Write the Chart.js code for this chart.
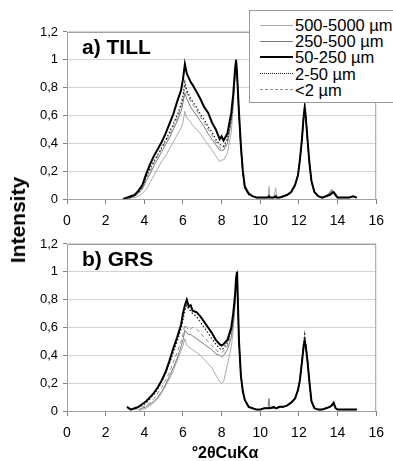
<!DOCTYPE html>
<html>
<head>
<meta charset="utf-8">
<script src="https://cdn.jsdelivr.net/npm/chart.js@4.4.1/dist/chart.umd.min.js"></script>
<style>
  html, body { margin: 0; padding: 0; background: #fff; }
  body { width: 393px; height: 461px; position: relative; overflow: hidden; font-family: "Liberation Sans", Arial, sans-serif; color: #000; }
  .panel { position: absolute; left: 0; width: 393px; }
  .panel-label { position: absolute; left: 82px; font-weight: bold; font-size: 21px; }
  #yTitle { position: absolute; left: 18px; top: 220px; font-weight: bold; font-size: 21px; transform: translate(-50%, -50%) rotate(-90deg); white-space: nowrap; }
  #xTitle { position: absolute; left: 225px; top: 453px; font-weight: bold; font-size: 16px; transform: translate(-50%, -50%); white-space: nowrap; }
  #legend { position: absolute; left: 249px; top: 10px; width: 160px; height: 93px; border: 1px solid #9a9a9a; background: #fff; box-sizing: border-box; padding-top: 6px; }
  .row { height: 16.2px; display: flex; align-items: center; font-size: 16.5px; line-height: 16px; }
  .sample { width: 33px; margin-left: 10px; margin-right: 2px; height: 0; }
</style>
</head>
<body>
<div class="panel" style="top:0;height:230px"><canvas id="tillChart"></canvas></div>
<div class="panel" style="top:230px;height:231px"><canvas id="grsChart"></canvas></div>
<div class="panel-label" id="labelA" style="top:35px"></div>
<div class="panel-label" id="labelB" style="top:247px"></div>
<div id="yTitle">Intensity</div>
<div id="xTitle">°2θCuKα</div>
<div id="legend"></div>

<script>
// °2θ positions shared by every scan
const xValues = [
  2.9, 3.1, 3.3, 3.5, 3.7, 3.9, 4.1, 4.3, 4.5, 4.7,
  4.9, 5.1, 5.3, 5.5, 5.7, 5.9, 6.0, 6.1, 6.2, 6.3,
  6.4, 6.5, 6.7, 6.9, 7.1, 7.3, 7.5, 7.7, 7.9, 8.0,
  8.1, 8.3, 8.5, 8.6, 8.7, 8.75, 8.8, 8.9, 9.0, 9.1,
  9.2, 9.4, 9.6, 9.8, 10.0, 10.2, 10.4, 10.45, 10.5, 10.7,
  10.8, 10.85, 11.0, 11.2, 11.4, 11.6, 11.8, 11.95, 12.05, 12.15,
  12.25, 12.3, 12.35, 12.45, 12.55, 12.65, 12.8, 13.0, 13.2, 13.4,
  13.6, 13.7, 13.8, 13.9, 14.0, 14.2, 14.4, 14.6, 14.8, 15.0,
];

const seriesLabels = ['500-5000 µm', '250-500 µm', '50-250 µm', '2-50 µm', '<2 µm'];
const panelLabels = ['a) TILL', 'b) GRS'];
const xTickLabels = ['0', '2', '4', '6', '8', '10', '12', '14', '16'];
const yTickLabels = ['0', '0,2', '0,4', '0,6', '0,8', '1', '1,2'];

// a) TILL
const till500to5000 = [
  0, 0, 0.01, 0.01, 0.02, 0.04, 0.07, 0.12, 0.17, 0.22,
  0.27, 0.31, 0.36, 0.41, 0.46, 0.51, 0.55, 0.63, 0.58, 0.57,
  0.55, 0.53, 0.5, 0.47, 0.43, 0.39, 0.35, 0.31, 0.27, 0.28,
  0.28, 0.33, 0.48, 0.65, 0.88, 0.98, 0.88, 0.58, 0.34, 0.18,
  0.07, 0.03, 0.02, 0.01, 0.01, 0.01, 0.01, 0.09, 0.01, 0.01,
  0.08, 0.01, 0.01, 0.02, 0.03, 0.05, 0.1, 0.17, 0.28, 0.41,
  0.58, 0.64, 0.59, 0.41, 0.24, 0.12, 0.05, 0.02, 0.01, 0.02,
  0.04, 0.05, 0.04, 0.02, 0.01, 0.01, 0.01, 0.01, 0.02, 0.01,
];
const till250to500 = [
  0, 0, 0.01, 0.02, 0.04, 0.07, 0.13, 0.18, 0.24, 0.29,
  0.34, 0.39, 0.44, 0.5, 0.56, 0.63, 0.69, 0.76, 0.72, 0.69,
  0.66, 0.64, 0.6, 0.56, 0.52, 0.47, 0.43, 0.39, 0.35, 0.35,
  0.35, 0.4, 0.55, 0.7, 0.9, 0.99, 0.9, 0.6, 0.36, 0.19,
  0.08, 0.03, 0.02, 0.01, 0.01, 0.01, 0.01, 0.01, 0.01, 0.01,
  0.01, 0.01, 0.01, 0.02, 0.03, 0.05, 0.1, 0.17, 0.28, 0.41,
  0.59, 0.65, 0.6, 0.41, 0.24, 0.12, 0.05, 0.02, 0.01, 0.02,
  0.05, 0.07, 0.04, 0.02, 0.01, 0.01, 0.01, 0.01, 0.02, 0.01,
];
const till50to250 = [
  0, 0.01, 0.02, 0.03, 0.06, 0.1, 0.18, 0.25, 0.31, 0.36,
  0.41, 0.47, 0.54, 0.61, 0.7, 0.78, 0.86, 0.97, 0.9, 0.87,
  0.84, 0.82, 0.77, 0.72, 0.66, 0.62, 0.55, 0.5, 0.43, 0.45,
  0.42, 0.47, 0.62, 0.75, 0.94, 1.0, 0.9, 0.62, 0.38, 0.2,
  0.09, 0.04, 0.02, 0.01, 0.01, 0.01, 0.01, 0.02, 0.01, 0.01,
  0.02, 0.01, 0.01, 0.02, 0.03, 0.05, 0.1, 0.17, 0.28, 0.42,
  0.6, 0.66, 0.6, 0.42, 0.25, 0.13, 0.05, 0.02, 0.01, 0.02,
  0.03, 0.04, 0.05, 0.03, 0.01, 0.01, 0.01, 0.01, 0.02, 0.01,
];
const till2to50 = [
  0, 0.01, 0.01, 0.03, 0.05, 0.09, 0.16, 0.22, 0.27, 0.32,
  0.37, 0.42, 0.48, 0.54, 0.6, 0.68, 0.74, 0.84, 0.78, 0.75,
  0.72, 0.7, 0.66, 0.61, 0.57, 0.52, 0.48, 0.43, 0.39, 0.39,
  0.38, 0.43, 0.58, 0.72, 0.92, 1.0, 0.9, 0.6, 0.36, 0.19,
  0.08, 0.03, 0.02, 0.01, 0.01, 0.01, 0.01, 0.01, 0.01, 0.01,
  0.01, 0.01, 0.01, 0.02, 0.03, 0.05, 0.1, 0.17, 0.28, 0.42,
  0.6, 0.67, 0.61, 0.42, 0.25, 0.13, 0.05, 0.02, 0.01, 0.02,
  0.03, 0.05, 0.04, 0.03, 0.01, 0.01, 0.01, 0.01, 0.02, 0.01,
];
const tillBelow2 = [
  0, 0.01, 0.01, 0.02, 0.05, 0.08, 0.15, 0.2, 0.26, 0.31,
  0.36, 0.41, 0.46, 0.52, 0.58, 0.66, 0.72, 0.81, 0.76, 0.73,
  0.7, 0.68, 0.64, 0.59, 0.55, 0.5, 0.46, 0.41, 0.37, 0.36,
  0.37, 0.41, 0.56, 0.7, 0.9, 0.99, 0.9, 0.6, 0.36, 0.19,
  0.08, 0.03, 0.02, 0.01, 0.01, 0.01, 0.01, 0.01, 0.01, 0.01,
  0.01, 0.01, 0.01, 0.02, 0.03, 0.05, 0.1, 0.17, 0.28, 0.41,
  0.59, 0.65, 0.6, 0.41, 0.25, 0.13, 0.05, 0.02, 0.01, 0.02,
  0.04, 0.06, 0.04, 0.02, 0.01, 0.01, 0.01, 0.01, 0.02, 0.01,
];

// b) GRS
const grs500to5000 = [
  null, null, null, null, 0, 0.01, 0.02, 0.04, 0.06, 0.09,
  0.13, 0.18, 0.23, 0.29, 0.36, 0.43, 0.47, 0.52, 0.47, 0.46,
  0.45, 0.44, 0.42, 0.4, 0.37, 0.34, 0.31, 0.26, 0.21, 0.2,
  0.21, 0.33, 0.46, 0.58, 0.76, 0.88, 0.95, 0.5, 0.25, 0.14,
  0.08, 0.03, 0.02, 0.01, 0.01, 0.02, 0.02, 0.02, 0.02, 0.02,
  0.02, 0.02, 0.03, 0.03, 0.04, 0.06, 0.09, 0.15, 0.22, 0.35,
  0.48, 0.52, 0.48, 0.35, 0.2, 0.07, 0.02, 0.01, 0.01, 0.02,
  0.03, 0.04, 0.04, 0.02, 0.01, 0.01, 0.01, 0.01, 0.01, 0.01,
];
const grs250to500 = [
  null, null, null, null, 0.01, 0.02, 0.03, 0.05, 0.07, 0.1,
  0.14, 0.19, 0.25, 0.31, 0.38, 0.46, 0.51, 0.58, 0.56, 0.55,
  0.55, 0.54, 0.52, 0.5, 0.48, 0.46, 0.44, 0.41, 0.4, 0.39,
  0.4, 0.44, 0.53, 0.63, 0.78, 0.9, 0.96, 0.5, 0.25, 0.14,
  0.08, 0.03, 0.02, 0.01, 0.01, 0.02, 0.02, 0.09, 0.02, 0.02,
  0.02, 0.02, 0.03, 0.03, 0.04, 0.06, 0.09, 0.15, 0.22, 0.35,
  0.48, 0.52, 0.48, 0.35, 0.2, 0.07, 0.02, 0.01, 0.01, 0.02,
  0.03, 0.05, 0.04, 0.02, 0.01, 0.01, 0.01, 0.01, 0.01, 0.01,
];
const grs50to250 = [
  null, 0.03, 0.01, 0.02, 0.03, 0.05, 0.07, 0.1, 0.13, 0.17,
  0.22, 0.28, 0.36, 0.45, 0.53, 0.62, 0.7, 0.76, 0.8, 0.75,
  0.76, 0.72, 0.71, 0.68, 0.64, 0.6, 0.56, 0.51, 0.48, 0.47,
  0.48, 0.51, 0.6, 0.7, 0.84, 0.96, 1.0, 0.5, 0.25, 0.14,
  0.08, 0.03, 0.02, 0.01, 0.01, 0.02, 0.02, 0.02, 0.02, 0.03,
  0.02, 0.02, 0.03, 0.03, 0.04, 0.06, 0.09, 0.15, 0.22, 0.34,
  0.47, 0.5, 0.47, 0.35, 0.2, 0.07, 0.02, 0.01, 0.01, 0.02,
  0.03, 0.04, 0.06, 0.02, 0.01, 0.01, 0.01, 0.01, 0.01, 0.01,
];
const grs2to50 = [
  null, null, 0.01, 0.02, 0.03, 0.04, 0.06, 0.09, 0.12, 0.16,
  0.21, 0.27, 0.34, 0.42, 0.5, 0.59, 0.65, 0.72, 0.76, 0.73,
  0.72, 0.7, 0.68, 0.64, 0.6, 0.56, 0.52, 0.48, 0.45, 0.44,
  0.45, 0.49, 0.58, 0.68, 0.82, 0.94, 0.98, 0.5, 0.25, 0.14,
  0.08, 0.03, 0.02, 0.01, 0.01, 0.02, 0.02, 0.02, 0.02, 0.02,
  0.02, 0.02, 0.03, 0.03, 0.04, 0.06, 0.09, 0.15, 0.23, 0.36,
  0.5, 0.55, 0.49, 0.36, 0.2, 0.07, 0.02, 0.01, 0.01, 0.02,
  0.03, 0.04, 0.05, 0.02, 0.01, 0.01, 0.01, 0.01, 0.01, 0.01,
];
const grsBelow2 = [
  null, null, null, 0.01, 0.02, 0.03, 0.04, 0.06, 0.09, 0.13,
  0.17, 0.22, 0.28, 0.35, 0.42, 0.5, 0.55, 0.62, 0.6, 0.58,
  0.59, 0.6, 0.59, 0.56, 0.53, 0.5, 0.47, 0.44, 0.42, 0.42,
  0.43, 0.47, 0.56, 0.66, 0.8, 0.92, 0.97, 0.5, 0.25, 0.14,
  0.08, 0.03, 0.02, 0.01, 0.01, 0.02, 0.02, 0.02, 0.02, 0.02,
  0.02, 0.02, 0.03, 0.03, 0.04, 0.06, 0.09, 0.15, 0.23, 0.36,
  0.5, 0.54, 0.49, 0.36, 0.2, 0.07, 0.02, 0.01, 0.01, 0.02,
  0.03, 0.04, 0.05, 0.03, 0.01, 0.01, 0.01, 0.01, 0.01, 0.01,
];

// line look for each size fraction, same order as seriesLabels
const seriesStyles = [
  { color: '#ababab', width: 1, dash: [], order: 4 },
  { color: '#7c7c7c', width: 1, dash: [], order: 3 },
  { color: '#000000', width: 2, dash: [], order: 0 },
  { color: '#1a1a1a', width: 1.2, dash: [1.5, 2], order: 1 },
  { color: '#8a8a8a', width: 1, dash: [4, 3], order: 2 },
];

Chart.defaults.font.family = '"Liberation Sans", Arial, sans-serif';
Chart.defaults.color = '#000';

const plotBorder = {
  id: 'plotBorder',
  beforeDatasetsDraw(chart) {
    const { ctx, chartArea: a } = chart;
    ctx.save();
    ctx.strokeStyle = '#a0a0a0';
    ctx.lineWidth = 1;
    ctx.strokeRect(a.left + 0.5, a.top + 0.5, a.right - a.left - 1, a.bottom - a.top);
    ctx.restore();
  },
};

function toPoints(values) {
  return xValues.map((x, i) => ({ x, y: values[i] }));
}

function drawPanel(canvasId, seriesValues, padTop, xHeight) {
  new Chart(document.getElementById(canvasId), {
    type: 'line',
    data: {
      datasets: seriesValues.map((values, i) => ({
        label: seriesLabels[i],
        data: toPoints(values),
        borderColor: seriesStyles[i].color,
        borderWidth: seriesStyles[i].width,
        borderDash: seriesStyles[i].dash,
        order: seriesStyles[i].order,
        pointRadius: 0,
        tension: 0,
        fill: false,
      })),
    },
    options: {
      responsive: true,
      maintainAspectRatio: false,
      animation: false,
      layout: { padding: { top: padTop, right: 10, left: 0, bottom: 0 } },
      plugins: { legend: { display: false }, tooltip: { enabled: false } },
      scales: {
        x: {
          type: 'linear',
          min: 0,
          max: 16,
          afterFit(scale) {
            scale.height = xHeight;
          },
          afterBuildTicks(scale) {
            scale.ticks = xTickLabels.map(t => ({ value: Number(t) }));
          },
          ticks: {
            font: { size: 14 },
            padding: 9,
            maxRotation: 0,
            callback(value, index) {
              return xTickLabels[index];
            },
          },
          grid: { drawOnChartArea: false, drawTicks: true, tickLength: 5, tickColor: '#808080' },
          border: { color: '#808080', width: 1 },
        },
        y: {
          min: 0,
          max: 1.2,
          afterFit(scale) {
            scale.width = 67;
          },
          afterBuildTicks(scale) {
            scale.ticks = yTickLabels.map((t, i) => ({ value: i * 0.2 }));
          },
          ticks: {
            font: { size: 13 },
            padding: 5,
            callback(value, index) {
              return yTickLabels[index];
            },
          },
          grid: { color: '#d4d4d4', tickLength: 4, tickColor: '#808080' },
          border: { color: '#808080', width: 1 },
        },
      },
    },
    plugins: [plotBorder],
  });
}

drawPanel('tillChart', [till500to5000, till250to500, till50to250, till2to50, tillBelow2], 32, 31);
drawPanel('grsChart', [grs500to5000, grs250to500, grs50to250, grs2to50, grsBelow2], 14, 50);

document.getElementById('labelA').textContent = panelLabels[0];
document.getElementById('labelB').textContent = panelLabels[1];

const legend = document.getElementById('legend');
seriesLabels.forEach((label, i) => {
  const s = seriesStyles[i];
  const row = document.createElement('div');
  row.className = 'row';
  const sample = document.createElement('div');
  sample.className = 'sample';
  const lineStyle = s.dash.length === 0 ? 'solid' : s.dash[0] < 2 ? 'dotted' : 'dashed';
  sample.style.borderTop = Math.max(1, Math.round(s.width)) + 'px ' + lineStyle + ' ' + s.color;
  const text = document.createElement('span');
  text.textContent = label;
  row.appendChild(sample);
  row.appendChild(text);
  legend.appendChild(row);
});
</script>
</body>
</html>
